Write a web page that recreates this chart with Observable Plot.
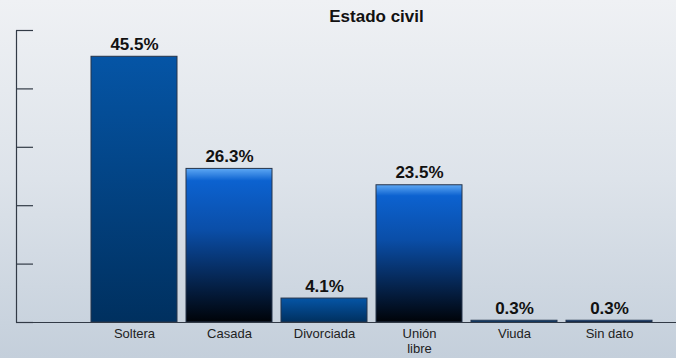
<!DOCTYPE html>
<html>
<head>
<meta charset="utf-8">
<script src="https://cdn.jsdelivr.net/npm/d3@7"></script>
<script src="https://cdn.jsdelivr.net/npm/@observablehq/plot@0.6"></script>
<style>
  html, body { margin: 0; padding: 0; }
  #wrap {
    position: relative; width: 676px; height: 358px; overflow: hidden;
    background: linear-gradient(to bottom, #eff1f4 0%, #dde3ea 50%, #c4cfdb 100%);
    font-family: "Liberation Sans", Arial, Helvetica, sans-serif;
  }
  #title {
    position: absolute; top: 7px; left: 91px; width: 571px; text-align: center;
    font-size: 17px; font-weight: bold; color: #111;
  }
  #chart { position: absolute; top: 0; left: 0; }
  #chart svg { background: transparent !important; }
</style>
</head>
<body>
<div id="wrap">
  <div id="chart"></div>
  <div id="title">Estado civil</div>
</div>
<script>
const categories = ["Soltera", "Casada", "Divorciada", "Unión libre", "Viuda", "Sin dato"];
const tickLabels = ["Soltera", "Casada", "Divorciada", "Unión\nlibre", "Viuda", "Sin dato"];
const values = [45.5, 26.3, 4.1, 23.5, 0.3, 0.3];
const barStyles = ["navy", "bright", "navy", "bright", "navy", "bright"];
const yTicks = [0, 10, 20, 30, 40, 50];

const data = categories.map((c, i) => ({cat: c, value: values[i], style: barStyles[i]}));
const axisColor = "#323a46";

const chart = Plot.plot({
  width: 676,
  height: 358,
  marginTop: 30,
  marginBottom: 36,
  marginLeft: 16,
  marginRight: 0,
  style: {background: "transparent", fontFamily: "'Liberation Sans', Arial, Helvetica, sans-serif", color: "#222"},
  x: {domain: categories, range: [86.5, 656.5], paddingInner: 0.095, paddingOuter: 0.0475},
  y: {domain: [0, 50], axis: null},
  marks: [
    Plot.barY(data.filter(d => d.style === "navy"), {x: "cat", y: "value", fill: "url(#gNavy)", stroke: "#26344a", strokeWidth: 1}),
    Plot.barY(data.filter(d => d.style === "bright"), {x: "cat", y: "value", fill: "url(#gBright)", stroke: "#26344a", strokeWidth: 1}),
    Plot.ruleY(yTicks, {stroke: axisColor, strokeWidth: 1.2, insetRight: 643}),
    Plot.ruleY([0], {stroke: axisColor, strokeWidth: 1.2}),
    Plot.frame({fill: axisColor, stroke: null, insetLeft: -0.6, insetRight: 659.4}),
    Plot.text(data, {x: "cat", y: "value", text: d => d.value.toFixed(1) + "%", dy: -7, lineAnchor: "bottom", fontSize: 17, fontWeight: "bold", fill: "#111"}),
    Plot.axisX({label: null, tickSize: 0, tickPadding: 6, fontSize: 13, fill: "#222", tickFormat: d => tickLabels[categories.indexOf(d)], lineHeight: 1.08})
  ]
});

const svg = d3.select(chart);
const defs = svg.insert("defs", ":first-child");
const gN = defs.append("linearGradient").attr("id", "gNavy").attr("x1", 0).attr("y1", 0).attr("x2", 0).attr("y2", 1);
gN.append("stop").attr("offset", "0%").attr("stop-color", "#0555a6");
gN.append("stop").attr("offset", "100%").attr("stop-color", "#00305f");
const gB = defs.append("linearGradient").attr("id", "gBright").attr("x1", 0).attr("y1", 0).attr("x2", 0).attr("y2", 1);
gB.append("stop").attr("offset", "0%").attr("stop-color", "#5ea8f4");
gB.append("stop").attr("offset", "8%").attr("stop-color", "#0c62d0");
gB.append("stop").attr("offset", "40%").attr("stop-color", "#0a4ea8");
gB.append("stop").attr("offset", "75%").attr("stop-color", "#05224a");
gB.append("stop").attr("offset", "100%").attr("stop-color", "#000308");

document.getElementById("chart").appendChild(chart);
</script>
</body>
</html>
